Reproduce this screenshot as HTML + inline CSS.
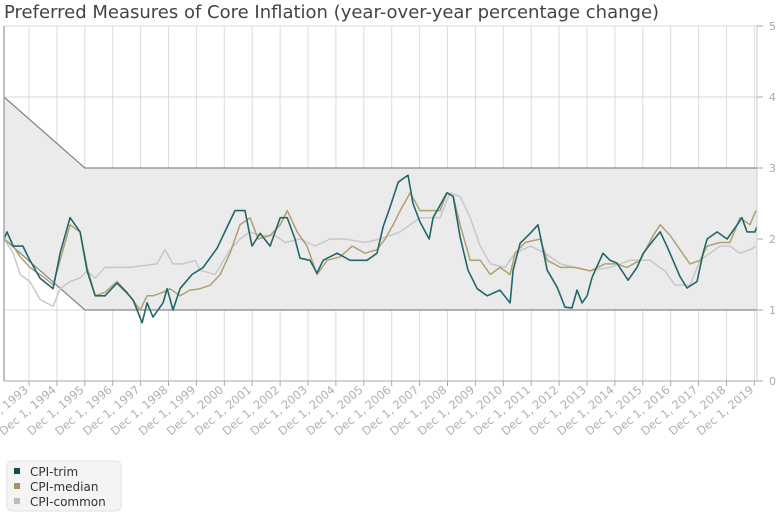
<!DOCTYPE html>
<html><head><meta charset="utf-8"><style>
body{margin:0;background:#fff;width:784px;height:517px;overflow:hidden;font-family:"DejaVu Sans","Liberation Sans",sans-serif;}
svg{position:absolute;left:0;top:0}
</style></head><body>
<svg id="chart" width="784" height="517">
<text x="4" y="18" font-size="18" fill="#444">Preferred Measures of Core Inflation (year-over-year percentage change)</text>
<g id="grid"></g><g id="band"></g><g id="series"></g><g id="axes"></g>
<g>
<rect x="7" y="461" width="114" height="50" rx="5" fill="#f4f4f4" stroke="#e2e2e2"/>
<rect x="14" y="468" width="6" height="6" fill="#0e4d50"/>
<text x="30" y="476" font-size="12" fill="#333">CPI-trim</text>
<rect x="14" y="483" width="6" height="6" fill="#a59260"/>
<text x="30" y="491" font-size="12" fill="#333">CPI-median</text>
<rect x="14" y="498" width="6" height="6" fill="#bdbdbd"/>
<text x="30" y="506" font-size="12" fill="#333">CPI-common</text>
</g>
</svg>
<script>
const yTicks=[0,1,2,3,4,5];
const xTickYears=[1993,1994,1995,1996,1997,1998,1999,2000,2001,2002,2003,2004,2005,2006,2007,2008,2009,2010,2011,2012,2013,2014,2015,2016,2017,2018,2019];
const bandUpperDates=[1993.0,1995.92,2020.0];
const bandUpperVals=[4,3,3];
const bandLowerDates=[1993.0,1995.92,2020.0];
const bandLowerVals=[2,1,1];
const trimDates=[1993.0,1993.13,1993.35,1993.7,1993.95,1994.31,1994.78,1995.03,1995.39,1995.75,1996.0,1996.29,1996.64,1997.07,1997.43,1997.65,1997.97,1998.15,1998.36,1998.72,1998.87,1999.08,1999.33,1999.76,2000.16,2000.66,2001.02,2001.3,2001.66,2001.91,2002.2,2002.56,2002.92,2003.17,2003.45,2003.63,2003.99,2004.24,2004.46,2004.96,2005.43,2006.03,2006.39,2006.61,2006.86,2007.15,2007.5,2007.68,2007.93,2008.26,2008.4,2008.9,2009.12,2009.37,2009.65,2009.98,2010.34,2010.8,2011.16,2011.27,2011.52,2011.88,2012.16,2012.49,2012.85,2013.13,2013.38,2013.56,2013.74,2013.92,2014.1,2014.49,2014.74,2014.99,2015.39,2015.71,2015.93,2016.29,2016.54,2016.79,2017.0,2017.25,2017.5,2017.86,2018.08,2018.22,2018.58,2018.94,2019.3,2019.47,2019.65,2019.94,2020.0];
const trimVals=[2.0,2.1,1.9,1.9,1.7,1.45,1.3,1.8,2.3,2.1,1.55,1.2,1.2,1.38,1.24,1.14,0.82,1.1,0.9,1.1,1.3,1.0,1.3,1.5,1.6,1.87,2.17,2.4,2.4,1.9,2.08,1.9,2.3,2.3,2.0,1.73,1.7,1.52,1.7,1.8,1.7,1.7,1.8,2.17,2.45,2.8,2.9,2.5,2.24,2.0,2.3,2.65,2.6,2.03,1.56,1.3,1.2,1.28,1.1,1.56,1.94,2.08,2.2,1.56,1.32,1.04,1.03,1.28,1.1,1.2,1.46,1.8,1.7,1.66,1.42,1.6,1.8,1.98,2.1,1.89,1.7,1.47,1.31,1.4,1.8,2.0,2.1,2.0,2.2,2.3,2.1,2.1,2.17];
const medianDates=[1993.0,1993.35,1993.6,1993.95,1994.49,1994.78,1995.03,1995.39,1995.75,1996.0,1996.29,1996.64,1997.07,1997.43,1997.9,1998.15,1998.36,1998.72,1998.97,1999.33,1999.69,2000.05,2000.41,2000.77,2001.12,2001.48,2001.84,2002.13,2002.56,2002.92,2003.17,2003.53,2003.88,2004.24,2004.6,2005.07,2005.5,2005.96,2006.39,2006.68,2006.97,2007.22,2007.58,2007.93,2008.29,2008.65,2008.9,2009.12,2009.37,2009.73,2010.09,2010.45,2010.8,2011.16,2011.34,2011.7,2012.24,2012.49,2012.96,2013.49,2014.03,2014.56,2014.99,2015.35,2015.82,2016.29,2016.54,2016.9,2017.25,2017.61,2017.97,2018.22,2018.68,2019.04,2019.4,2019.76,2019.97];
const medianVals=[2.0,1.9,1.75,1.6,1.45,1.35,1.7,2.2,2.1,1.6,1.2,1.25,1.4,1.25,1.0,1.2,1.2,1.25,1.3,1.2,1.28,1.3,1.35,1.5,1.8,2.2,2.3,2.0,2.05,2.2,2.4,2.1,1.9,1.5,1.7,1.75,1.9,1.8,1.85,2.0,2.2,2.4,2.65,2.4,2.4,2.4,2.65,2.6,2.2,1.7,1.7,1.5,1.6,1.5,1.8,1.95,2.0,1.7,1.6,1.6,1.55,1.65,1.65,1.6,1.7,2.05,2.2,2.05,1.85,1.65,1.7,1.9,1.95,1.95,2.3,2.2,2.4];
const commonDates=[1993.0,1993.35,1993.6,1993.95,1994.31,1994.78,1995.03,1995.39,1995.75,1996.0,1996.29,1996.64,1997.54,1998.5,1998.79,1999.08,1999.44,1999.87,2000.05,2000.59,2001.12,2001.48,2001.84,2002.2,2002.74,2003.1,2003.63,2004.17,2004.71,2005.25,2005.96,2006.5,2007.22,2007.93,2008.65,2009.01,2009.37,2009.73,2010.09,2010.45,2010.98,2011.34,2011.88,2012.41,2012.96,2013.49,2014.03,2014.74,2015.46,2016.18,2016.71,2017.07,2017.61,2017.97,2018.68,2019.04,2019.4,2019.76,2019.97];
const commonVals=[2.0,1.8,1.5,1.4,1.15,1.05,1.3,1.4,1.45,1.55,1.45,1.6,1.6,1.65,1.85,1.65,1.65,1.7,1.56,1.5,1.85,2.0,2.1,2.05,2.05,1.95,2.0,1.9,2.0,2.0,1.95,2.0,2.1,2.3,2.3,2.65,2.6,2.3,1.9,1.65,1.6,1.8,1.9,1.8,1.65,1.6,1.55,1.6,1.7,1.7,1.55,1.35,1.35,1.7,1.9,1.9,1.8,1.85,1.9];

const NS='http://www.w3.org/2000/svg';
const L=4,R=757,T=26,B=381;
function xS(t){return 29+(t-1993.917)*27.9;}
function yS(v){return B-(v/5)*(B-T);}
function mk(tag,attrs,parent){const e=document.createElementNS(NS,tag);for(const k in attrs)e.setAttribute(k,attrs[k]);parent.appendChild(e);return e;}
const grid=document.getElementById('grid'),band=document.getElementById('band'),ser=document.getElementById('series'),axes=document.getElementById('axes');

xTickYears.forEach(y=>{
  const x=xS(y+0.917);
  const g=mk('line',{x1:x,x2:x,y1:T,y2:B,stroke:'#dcdcdc','stroke-width':1},grid);
  
  
  const tk=mk('line',{x1:x,x2:x,y1:B,y2:B+5,stroke:'#aaa'},axes);
  
  
  const tx=mk('text',{x:x,y:B+10,'font-size':11.5,fill:'#b0b0b0','text-anchor':'end',transform:`rotate(-40 ${x} ${B+10})`},axes);
  tx.textContent='Dec 1, '+y;
  
  
});
let d='';
bandUpperDates.forEach((t,i)=>{d+=(i?'L':'M')+Math.max(L,xS(t))+' '+yS(bandUpperVals[i]);});
for(let i=bandLowerDates.length-1;i>=0;i--){d+='L'+Math.max(L,xS(bandLowerDates[i]))+' '+yS(bandLowerVals[i]);}
const bf=mk('path',{d:d+'Z',fill:'#ebebeb'},band);


yTicks.forEach(v=>{
  const y=yS(v);
  const h=mk('line',{x1:L,x2:R,y1:y,y2:y,stroke:v===0?'#aaa':'#d8d8d8'},grid);
  
  
  const tk=mk('line',{x1:R,x2:R+6,y1:y,y2:y,stroke:'#aaa'},axes);
  
  
  const tx=mk('text',{x:R+12,y:y+4,'font-size':11,fill:'#aaa'},axes);
  tx.textContent=v;
  
  
});
const la=mk('line',{x1:L,x2:L,y1:T,y2:B,stroke:'#aaa','stroke-width':1.5},axes);


const ra=mk('line',{x1:R,x2:R,y1:T,y2:B,stroke:'#ccc'},axes);


function bline(ds,vs,name){
  let p='';ds.forEach((t,i)=>{p+=(i?'L':'M')+Math.max(L,xS(t)).toFixed(1)+' '+yS(vs[i]).toFixed(1);});
  const e=mk('path',{d:p,fill:'none',stroke:'#888','stroke-width':1.3},band);
  
  
}
bline(bandUpperDates,bandUpperVals,'band-upper-line');
bline(bandLowerDates,bandLowerVals,'band-lower-line');
function line(ds,vs,col,w,name){
  let p='';ds.forEach((t,i)=>{p+=(i?'L':'M')+Math.max(L,xS(t)).toFixed(1)+' '+yS(vs[i]).toFixed(1);});
  const e=mk('path',{d:p,fill:'none',stroke:col,'stroke-width':w,'stroke-linejoin':'round'},ser);
  
  
}
line(commonDates,commonVals,'#c8c8c8',1.5,'cpi-common-line');
line(medianDates,medianVals,'#b0a070',1.5,'cpi-median-line');
line(trimDates,trimVals,'#22666b',1.6,'cpi-trim-line');
</script>
</body></html>
